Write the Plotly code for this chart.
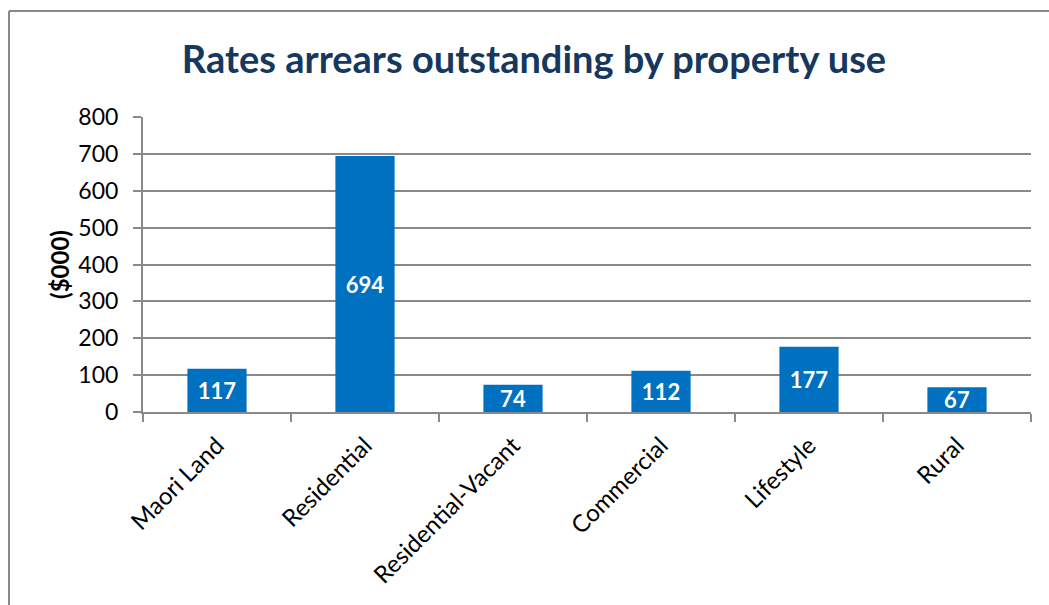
import plotly.graph_objects as go

# Rates arrears by property use, in $000
categories = ["Maori Land", "Residential", "Residential-Vacant", "Commercial", "Lifestyle", "Rural"]
arrears = [117, 694, 74, 112, 177, 67]
y_ticks = [0, 100, 200, 300, 400, 500, 600, 700, 800]

W, H = 1049, 605
L, R, T, B = 143, 18, 117, 193
pw, ph = W - L - R, H - T - B

FONT = "Lato"
GRID = "#898989"

fig = go.Figure(
    go.Bar(
        x=categories,
        y=arrears,
        marker=dict(color="#0070C0", line=dict(width=0)),
        text=[str(v) for v in arrears],
        textposition="inside",
        insidetextanchor="middle",
        textangle=0,
        constraintext="none",
        textfont=dict(family=FONT, size=22, color="white", weight="bold"),
        hoverinfo="x+y",
    )
)

fig.update_layout(
    width=W,
    height=H,
    margin=dict(l=L, r=R, t=T, b=B, pad=0),
    paper_bgcolor="white",
    plot_bgcolor="white",
    bargap=0.6,
    showlegend=False,
    font=dict(family=FONT, size=23, color="black"),
    title=dict(
        text="<b>Rates arrears outstanding by property use</b>",
        font=dict(family=FONT, size=38, color="#16385F"),
        x=(534 - L) / pw, xref="paper", xanchor="center",
        y=1 - 60 / H, yref="container", yanchor="middle",
    ),
    xaxis=dict(
        type="category",
        tickangle=-45,
        showline=True, linecolor=GRID, linewidth=2,
        ticks="outside", tickson="boundaries", ticklen=8, tickcolor=GRID, tickwidth=2,
        ticklabelstandoff=8,
        showgrid=False,
        tickfont=dict(family=FONT, size=24, color="black"),
    ),
    yaxis=dict(
        range=[0, 800],
        tickvals=y_ticks,
        showline=True, linecolor=GRID, linewidth=2,
        ticks="outside", ticklen=8, tickcolor=GRID, tickwidth=2,
        ticklabelstandoff=10,
        showgrid=True, gridcolor=GRID, gridwidth=2,
        zeroline=False,
        tickfont=dict(family=FONT, size=23, color="black"),
        title=dict(text="<b>($000)</b>", font=dict(family=FONT, size=24, color="black"), standoff=2),
    ),
    shapes=[
        # outer chart frame (top and left edges)
        dict(type="line", xref="paper", yref="paper",
             x0=(9 - L) / pw, x1=(W + 5 - L) / pw, y0=1 + (T - 11) / ph, y1=1 + (T - 11) / ph,
             line=dict(color=GRID, width=2)),
        dict(type="line", xref="paper", yref="paper",
             x0=(9 - L) / pw, x1=(9 - L) / pw, y0=1 + (T - 11) / ph, y1=-(B + 5) / ph,
             line=dict(color=GRID, width=2)),
    ],
)

fig.write_html("out.html")
